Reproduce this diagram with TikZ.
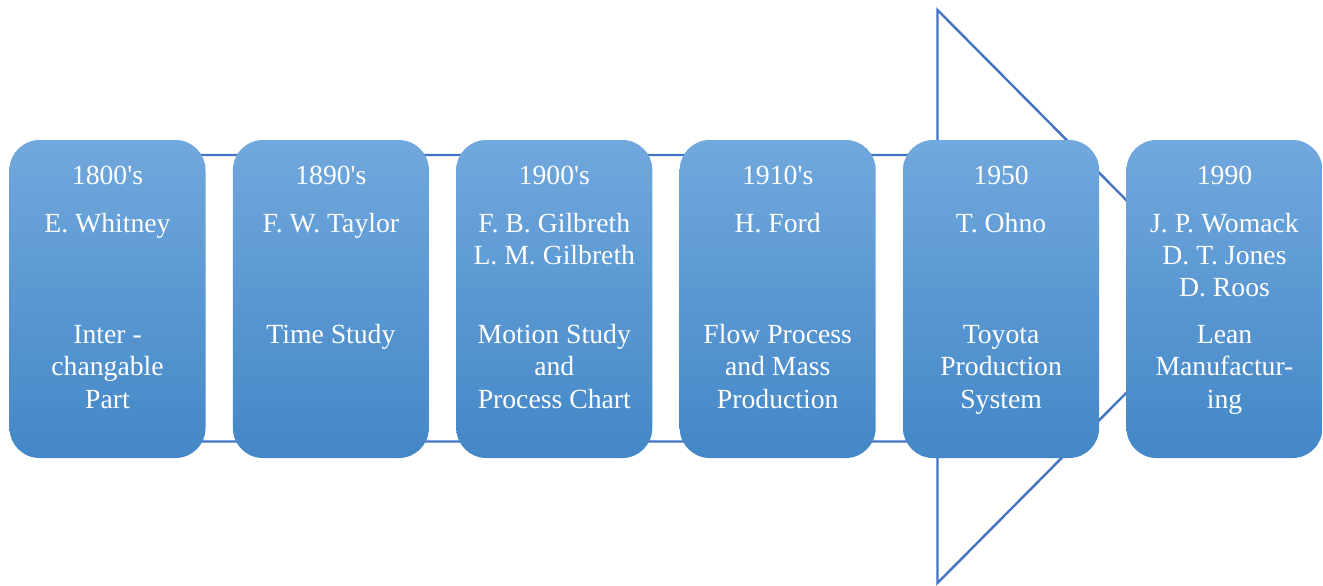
\documentclass[tikz,border=0pt]{standalone}
\usepackage{fontspec}
\setmainfont{Liberation Serif}
\usepackage{array}
\definecolor{arrowline}{HTML}{4472C4}
\definecolor{boxtop}{HTML}{71A8DD}
\definecolor{boxmid}{HTML}{5599DA}
\definecolor{boxbot}{HTML}{4387C7}
\tikzset{
  eraarrow/.style={draw=arrowline, line width=2.4pt, fill=white, line join=miter},
  erabox/.style={rounded corners=30pt, minimum width=196pt, minimum height=318pt,
    inner sep=0pt, top color=boxtop, middle color=boxmid, bottom color=boxbot, draw=none},
  eratext/.style={anchor=base, inner sep=0pt, text=white,
    font=\fontsize{27.7}{32.3}\selectfont},
}
% rows of centred text with the first baseline at the node's base anchor
\newcommand{\erarows}[1]{\begin{tabular}[t]{@{}c@{}}#1\end{tabular}}
\newcommand{\decade}[1]{#1\textquotesingle s}
\begin{document}
\begin{tikzpicture}[x=1pt,y=-1pt]
\useasboundingbox (0,0) rectangle (1323,586);
% the block arrow behind the milestones
\coordinate (tailtop) at (100,155);
\coordinate (neckt) at (937.5,155);
\coordinate (barbt) at (937.5,10);
\coordinate (tip) at (1222,296.5);
\coordinate (barbb) at (937.5,583);
\coordinate (neckb) at (937.5,441.5);
\coordinate (tailbot) at (100,441.5);
\draw[eraarrow] (tailtop) -- (neckt) -- (barbt) -- (tip) -- (barbb) -- (neckb) -- (tailbot) -- cycle;
% milestone boxes
\foreach \i/\year/\who/\what [count=\k from 0] in {
  1/{\decade{1800}}/{E. Whitney}/{Inter -\\changable\\Part},
  2/{\decade{1890}}/{F. W. Taylor}/{Time Study},
  3/{\decade{1900}}/{F. B. Gilbreth\\L. M. Gilbreth}/{Motion Study\\and\\Process Chart},
  4/{\decade{1910}}/{H. Ford}/{Flow Process\\and Mass\\Production},
  5/1950/{T. Ohno}/{Toyota\\Production\\System},
  6/1990/{J. P. Womack\\D. T. Jones\\D. Roos}/{Lean\\Manufactur-\\ing}} {
  \pgfmathsetmacro{\cx}{107.5+223.4*\k}
  \node[erabox] (box\i) at (\cx,299) {};
  \node[eratext] (year\i) at (\cx,184) {\year};
  \node[eratext] (who\i) at (\cx,232) {\erarows{\who}};
  \node[eratext] (what\i) at (\cx,343.5) {\erarows{\what}};
}
\end{tikzpicture}
\end{document}
